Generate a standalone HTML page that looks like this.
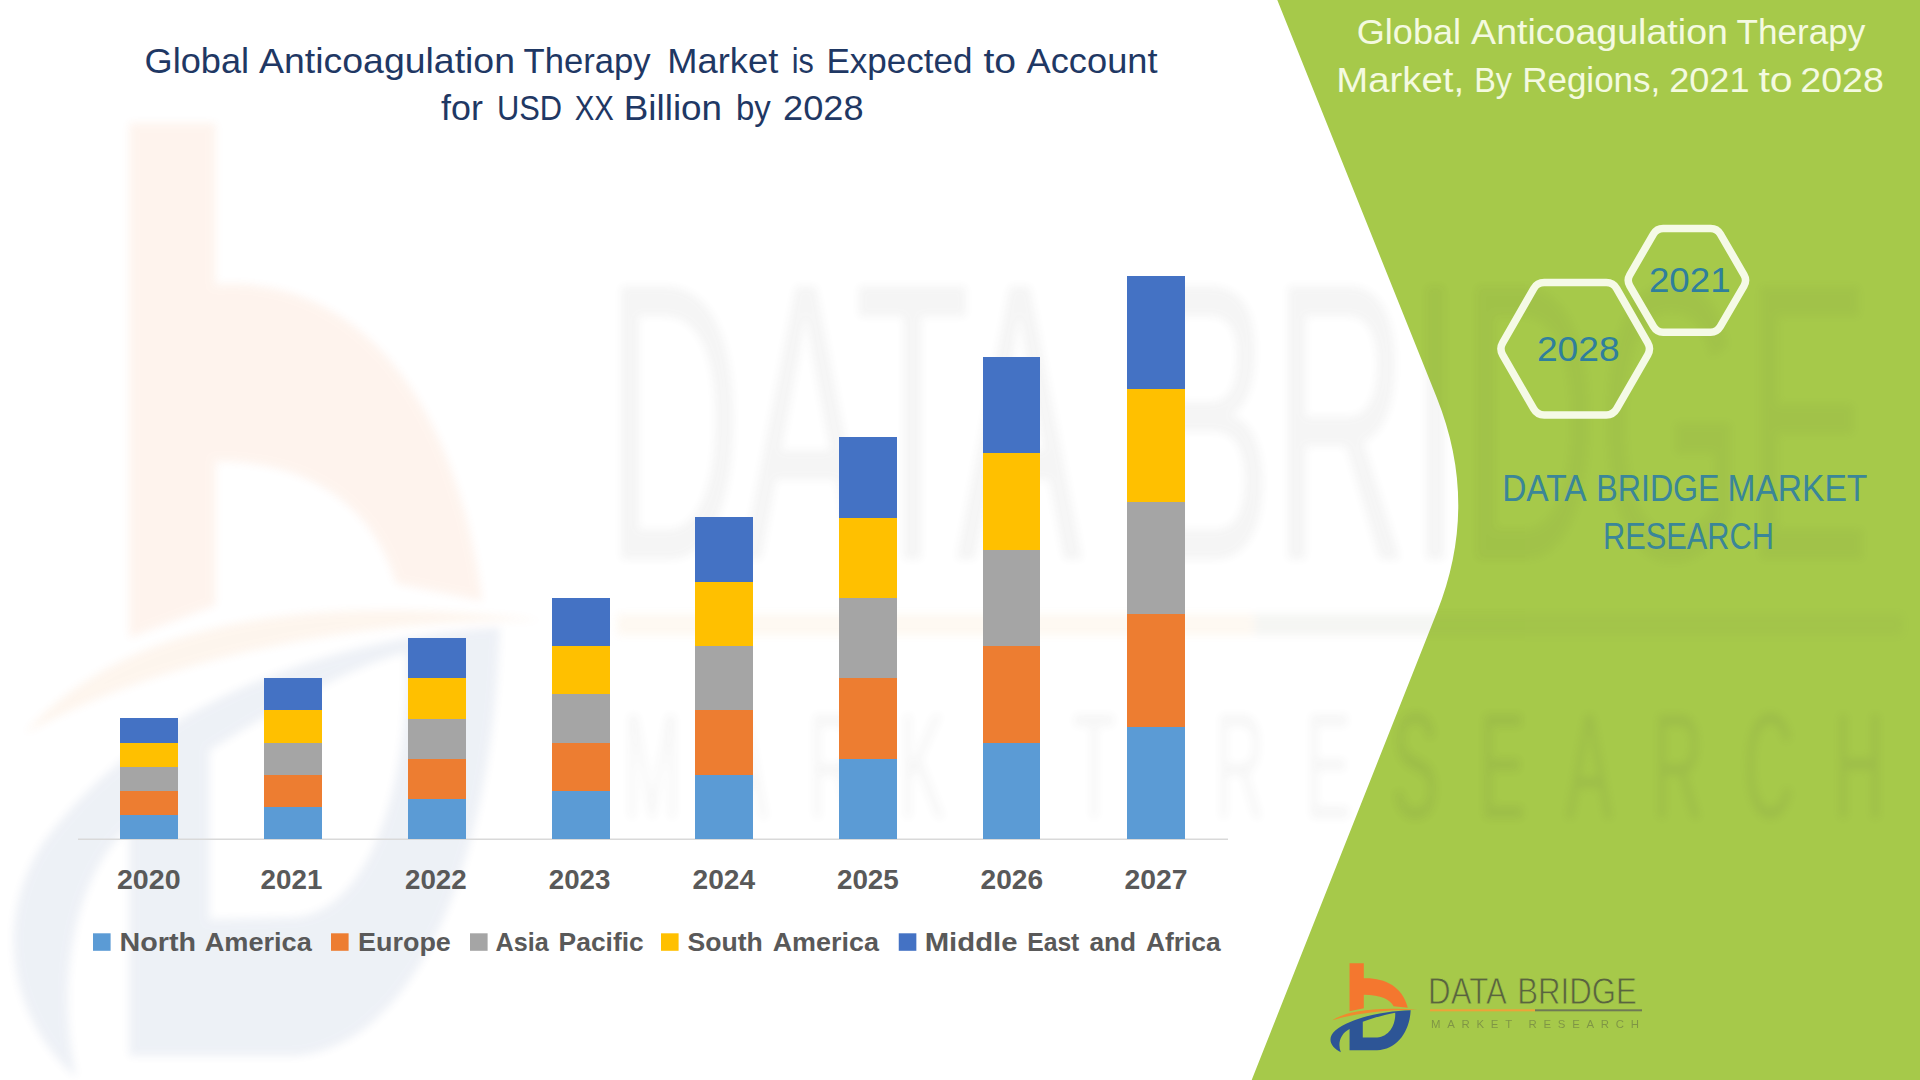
<!DOCTYPE html>
<html><head><meta charset="utf-8"><title>Global Anticoagulation Therapy Market</title>
<style>
html,body{margin:0;padding:0;background:#fff;}
body{width:1920px;height:1080px;overflow:hidden;font-family:"Liberation Sans",sans-serif;}
svg{display:block;position:absolute;left:0;top:0;}
text{font-family:"Liberation Sans",sans-serif;}
</style></head><body>
<svg width="1920" height="1080" viewBox="0 0 1920 1080">
<defs>
<filter id="bl" x="-5%" y="-5%" width="110%" height="110%"><feGaussianBlur stdDeviation="4"/></filter>
<!-- logo mark (raw path units) -->
<g id="lgp">
<path d="M290,130 H430 V278 C620,270 810,350 862,568 L722,552 C690,490 600,440 430,440 V572 L290,602 Z" fill="#F4772F"/>
<path d="M120,690 C260,600 520,556 960,586 C640,584 330,624 120,690 Z" fill="#F08A2E"/>
<path fill-rule="evenodd" d="M890,592 C650,600 330,650 150,790 C60,870 110,960 205,1005 C170,920 200,820 290,775 L290,985 L560,985 C760,975 880,800 890,592 Z M420,705 C520,670 640,630 738,615 C745,720 690,850 560,858 L420,860 Z" fill="#2D5596"/>
</g>
<!-- logo word mark -->
<g id="lgw">
<g font-size="37.6" fill="#3c3c3c" fill-opacity=".74">
<text x="1428.11" y="1004.1" textLength="78.65" lengthAdjust="spacingAndGlyphs">DATA</text>
<text x="1517.31" y="1004.1" textLength="119.47" lengthAdjust="spacingAndGlyphs">BRIDGE</text>
</g>
<rect x="1430" y="1009.3" width="105" height="2" fill="#EFA23A" stroke="none"/>
<rect x="1535" y="1009.3" width="107" height="2" fill="#6f7a55" stroke="none"/>
</g>
<g id="lgr">
<text x="1431" y="1028" font-size="11.4" textLength="208" lengthAdjust="spacing" fill="#3c3c3c">MARKET RESEARCH</text>
</g>
<clipPath id="gclip"><path d="M1277.3,0 L1436.7,397.5 Q1479.6,504.5 1437.2,611.5 L1251.7,1080 L1920,1080 L1920,0 Z"/></clipPath>
<g id="wmk" filter="url(#bl)">
<use href="#lgp" transform="matrix(0.6176 0 0 1.0912 -49.86 -18.9)"/>
</g>
<g id="wm" filter="url(#bl)">
<g transform="matrix(6.063 0 0 10.55 -8053.0 -10034)"><use href="#lgw"/></g>
</g>
<g id="wm2" filter="url(#bl)">
<g transform="matrix(6.063 0 0 13.2 -8053.0 -12751.8)"><use href="#lgr"/></g>
</g>
</defs>
<rect width="1920" height="1080" fill="#ffffff"/>
<use href="#wmk" opacity="0.08"/><use href="#wm" opacity="0.066"/><use href="#wm2" opacity="0.045"/>
<!-- green panel -->
<path d="M1277.3,0 L1436.7,397.5 Q1479.6,504.5 1437.2,611.5 L1251.7,1080 L1920,1080 L1920,0 Z" fill="#A6C94A"/>
<!-- watermark: stretched logo -->
<g clip-path="url(#gclip)"><use href="#wm" opacity="0.055"/><use href="#wm2" opacity="0.075"/></g>
<!-- chart -->
<line x1="78" y1="839.2" x2="1228" y2="839.2" stroke="#D9D9D9" stroke-width="1.6"/>
<g shape-rendering="crispEdges">
<rect x="120.00" y="814.64" width="57.8" height="24.41" fill="#5B9BD5"/>
<rect x="120.00" y="790.53" width="57.8" height="24.41" fill="#ED7D31"/>
<rect x="120.00" y="766.43" width="57.8" height="24.41" fill="#A5A5A5"/>
<rect x="120.00" y="742.32" width="57.8" height="24.41" fill="#FFC000"/>
<rect x="120.00" y="718.21" width="57.8" height="24.41" fill="#4472C4"/>
<rect x="264.00" y="806.61" width="57.8" height="32.44" fill="#5B9BD5"/>
<rect x="264.00" y="774.46" width="57.8" height="32.44" fill="#ED7D31"/>
<rect x="264.00" y="742.32" width="57.8" height="32.44" fill="#A5A5A5"/>
<rect x="264.00" y="710.17" width="57.8" height="32.44" fill="#FFC000"/>
<rect x="264.00" y="678.03" width="57.8" height="32.44" fill="#4472C4"/>
<rect x="408.00" y="798.57" width="57.8" height="40.48" fill="#5B9BD5"/>
<rect x="408.00" y="758.39" width="57.8" height="40.48" fill="#ED7D31"/>
<rect x="408.00" y="718.21" width="57.8" height="40.48" fill="#A5A5A5"/>
<rect x="408.00" y="678.03" width="57.8" height="40.48" fill="#FFC000"/>
<rect x="408.00" y="637.85" width="57.8" height="40.48" fill="#4472C4"/>
<rect x="552.00" y="790.53" width="57.8" height="48.52" fill="#5B9BD5"/>
<rect x="552.00" y="742.32" width="57.8" height="48.52" fill="#ED7D31"/>
<rect x="552.00" y="694.10" width="57.8" height="48.52" fill="#A5A5A5"/>
<rect x="552.00" y="645.89" width="57.8" height="48.52" fill="#FFC000"/>
<rect x="552.00" y="597.67" width="57.8" height="48.52" fill="#4472C4"/>
<rect x="694.90" y="774.46" width="57.8" height="64.59" fill="#5B9BD5"/>
<rect x="694.90" y="710.17" width="57.8" height="64.59" fill="#ED7D31"/>
<rect x="694.90" y="645.89" width="57.8" height="64.59" fill="#A5A5A5"/>
<rect x="694.90" y="581.60" width="57.8" height="64.59" fill="#FFC000"/>
<rect x="694.90" y="517.31" width="57.8" height="64.59" fill="#4472C4"/>
<rect x="838.70" y="758.39" width="57.8" height="80.66" fill="#5B9BD5"/>
<rect x="838.70" y="678.03" width="57.8" height="80.66" fill="#ED7D31"/>
<rect x="838.70" y="597.67" width="57.8" height="80.66" fill="#A5A5A5"/>
<rect x="838.70" y="517.31" width="57.8" height="80.66" fill="#FFC000"/>
<rect x="838.70" y="436.95" width="57.8" height="80.66" fill="#4472C4"/>
<rect x="982.50" y="742.32" width="57.8" height="96.73" fill="#5B9BD5"/>
<rect x="982.50" y="645.89" width="57.8" height="96.73" fill="#ED7D31"/>
<rect x="982.50" y="549.45" width="57.8" height="96.73" fill="#A5A5A5"/>
<rect x="982.50" y="453.02" width="57.8" height="96.73" fill="#FFC000"/>
<rect x="982.50" y="356.59" width="57.8" height="96.73" fill="#4472C4"/>
<rect x="1126.70" y="726.25" width="57.8" height="112.80" fill="#5B9BD5"/>
<rect x="1126.70" y="613.74" width="57.8" height="112.80" fill="#ED7D31"/>
<rect x="1126.70" y="501.24" width="57.8" height="112.80" fill="#A5A5A5"/>
<rect x="1126.70" y="388.73" width="57.8" height="112.80" fill="#FFC000"/>
<rect x="1126.70" y="276.23" width="57.8" height="112.80" fill="#4472C4"/>
</g>
<g font-weight="bold" font-size="27.2" fill="#595959">
<text x="116.90" y="889.2" textLength="63.68" lengthAdjust="spacingAndGlyphs">2020</text>
<text x="260.60" y="889.2" textLength="61.72" lengthAdjust="spacingAndGlyphs">2021</text>
<text x="405.00" y="889.2" textLength="61.72" lengthAdjust="spacingAndGlyphs">2022</text>
<text x="548.75" y="889.2" textLength="61.67" lengthAdjust="spacingAndGlyphs">2023</text>
<text x="692.50" y="889.2" textLength="62.62" lengthAdjust="spacingAndGlyphs">2024</text>
<text x="836.90" y="889.2" textLength="61.97" lengthAdjust="spacingAndGlyphs">2025</text>
<text x="980.60" y="889.2" textLength="62.52" lengthAdjust="spacingAndGlyphs">2026</text>
<text x="1124.40" y="889.2" textLength="63.02" lengthAdjust="spacingAndGlyphs">2027</text>
</g>
<rect x="93.0" y="933.3" width="17.6" height="17.5" fill="#5B9BD5"/>
<rect x="331" y="933.3" width="17.6" height="17.5" fill="#ED7D31"/>
<rect x="470" y="933.3" width="17.6" height="17.5" fill="#A5A5A5"/>
<rect x="661" y="933.3" width="17.6" height="17.5" fill="#FFC000"/>
<rect x="898.75" y="933.3" width="17.6" height="17.5" fill="#4472C4"/>
<g font-weight="bold" font-size="26.3" fill="#595959">
<text x="119.51" y="950.7" textLength="76.45" lengthAdjust="spacingAndGlyphs">North</text>
<text x="204.70" y="950.7" textLength="107.11" lengthAdjust="spacingAndGlyphs">America</text>
<text x="358.08" y="950.7" textLength="92.76" lengthAdjust="spacingAndGlyphs">Europe</text>
<text x="495.60" y="950.7" textLength="53.14" lengthAdjust="spacingAndGlyphs">Asia</text>
<text x="558.60" y="950.7" textLength="85.13" lengthAdjust="spacingAndGlyphs">Pacific</text>
<text x="687.60" y="950.7" textLength="75.27" lengthAdjust="spacingAndGlyphs">South</text>
<text x="772.70" y="950.7" textLength="106.22" lengthAdjust="spacingAndGlyphs">America</text>
<text x="924.69" y="950.7" textLength="92.81" lengthAdjust="spacingAndGlyphs">Middle</text>
<text x="1027.16" y="950.7" textLength="52.21" lengthAdjust="spacingAndGlyphs">East</text>
<text x="1089.50" y="950.7" textLength="46.56" lengthAdjust="spacingAndGlyphs">and</text>
<text x="1145.90" y="950.7" textLength="74.82" lengthAdjust="spacingAndGlyphs">Africa</text>
</g>
<!-- titles -->
<g font-size="35" fill="#1F3864">
<text x="144.57" y="72.6" textLength="104.57" lengthAdjust="spacingAndGlyphs">Global</text>
<text x="259.10" y="72.6" textLength="255.87" lengthAdjust="spacingAndGlyphs">Anticoagulation</text>
<text x="523.50" y="72.6" textLength="127.01" lengthAdjust="spacingAndGlyphs">Therapy</text>
<text x="667.33" y="72.6" textLength="110.89" lengthAdjust="spacingAndGlyphs">Market</text>
<text x="791.75" y="72.6" textLength="22.08" lengthAdjust="spacingAndGlyphs">is</text>
<text x="826.40" y="72.6" textLength="145.97" lengthAdjust="spacingAndGlyphs">Expected</text>
<text x="983.40" y="72.6" textLength="32.64" lengthAdjust="spacingAndGlyphs">to</text>
<text x="1026.60" y="72.6" textLength="130.91" lengthAdjust="spacingAndGlyphs">Account</text>
<text x="441.00" y="120.4" textLength="41.85" lengthAdjust="spacingAndGlyphs">for</text>
<text x="496.99" y="120.4" textLength="65.14" lengthAdjust="spacingAndGlyphs">USD</text>
<text x="574.70" y="120.4" textLength="39.09" lengthAdjust="spacingAndGlyphs">XX</text>
<text x="623.79" y="120.4" textLength="98.35" lengthAdjust="spacingAndGlyphs">Billion</text>
<text x="735.92" y="120.4" textLength="34.81" lengthAdjust="spacingAndGlyphs">by</text>
<text x="783.07" y="120.4" textLength="80.55" lengthAdjust="spacingAndGlyphs">2028</text>
</g>
<g font-size="34.4" fill="#F4FAE0">
<text x="1356.75" y="44.2" textLength="104.37" lengthAdjust="spacingAndGlyphs">Global</text>
<text x="1471.10" y="44.2" textLength="256.82" lengthAdjust="spacingAndGlyphs">Anticoagulation</text>
<text x="1736.60" y="44.2" textLength="128.83" lengthAdjust="spacingAndGlyphs">Therapy</text>
<text x="1336.37" y="92.1" textLength="127.72" lengthAdjust="spacingAndGlyphs">Market,</text>
<text x="1474.21" y="92.1" textLength="37.83" lengthAdjust="spacingAndGlyphs">By</text>
<text x="1522.16" y="92.1" textLength="138.14" lengthAdjust="spacingAndGlyphs">Regions,</text>
<text x="1669.15" y="92.1" textLength="80.33" lengthAdjust="spacingAndGlyphs">2021</text>
<text x="1758.40" y="92.1" textLength="34.19" lengthAdjust="spacingAndGlyphs">to</text>
<text x="1800.31" y="92.1" textLength="83.62" lengthAdjust="spacingAndGlyphs">2028</text>
</g>
<!-- hexagons -->
<g fill="none" stroke="#F5FAE6" stroke-width="7.5" stroke-linejoin="round">
<path d="M1629.81,285.83 A11,11 0 0 1 1629.81,274.77 L1653.57,233.87 A11,11 0 0 1 1663.08,228.40 L1710.72,228.40 A11,11 0 0 1 1720.23,233.87 L1743.99,274.77 A11,11 0 0 1 1743.99,285.83 L1720.23,326.73 A11,11 0 0 1 1710.72,332.20 L1663.08,332.20 A11,11 0 0 1 1653.57,326.73 Z"/>
<path d="M1502.63,354.77 A12,12 0 0 1 1502.63,342.83 L1533.74,288.63 A12,12 0 0 1 1544.15,282.60 L1606.25,282.60 A12,12 0 0 1 1616.66,288.63 L1647.77,342.83 A12,12 0 0 1 1647.77,354.77 L1616.66,408.97 A12,12 0 0 1 1606.25,415.00 L1544.15,415.00 A12,12 0 0 1 1533.74,408.97 Z"/>
</g>
<g font-size="34.2" fill="#2F7F9C">
<text x="1648.93" y="291.5" textLength="81.66" lengthAdjust="spacingAndGlyphs">2021</text>
<text x="1536.91" y="360.7" textLength="82.69" lengthAdjust="spacingAndGlyphs">2028</text>
</g>
<g font-size="36.3" fill="#3A8698">
<text x="1502.16" y="500.9" textLength="84.32" lengthAdjust="spacingAndGlyphs">DATA</text>
<text x="1596.33" y="500.9" textLength="123.24" lengthAdjust="spacingAndGlyphs">BRIDGE</text>
<text x="1727.55" y="500.9" textLength="139.81" lengthAdjust="spacingAndGlyphs">MARKET</text>
<text x="1603.01" y="548.5" textLength="170.87" lengthAdjust="spacingAndGlyphs">RESEARCH</text>
</g>
<!-- logo -->
<use href="#lgp" transform="translate(1320,950) scale(0.101864)"/><use href="#lgw" stroke="#A6C94A" stroke-width="0.8"/><use href="#lgr" opacity=".36"/>
</svg>
</body></html>
